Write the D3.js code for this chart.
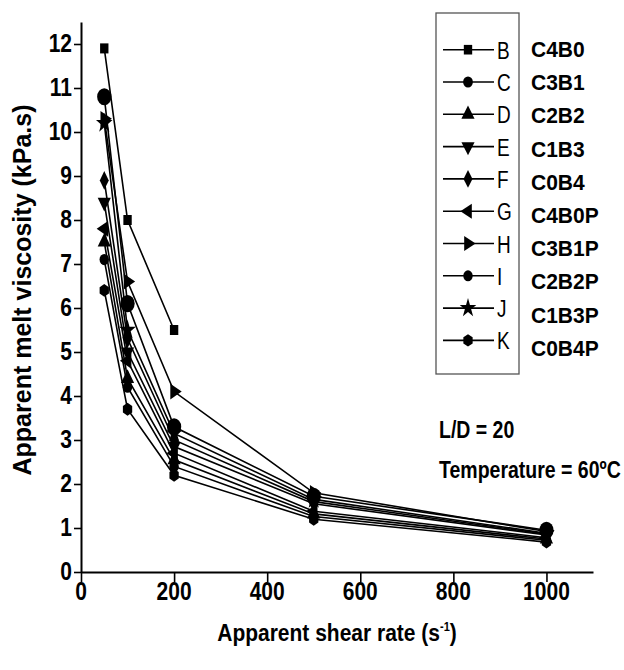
<!DOCTYPE html>
<html>
<head>
<meta charset="utf-8">
<script src="https://cdn.jsdelivr.net/npm/d3@7"></script>
<style>
  html, body { margin: 0; padding: 0; background: #fff; }
  svg { display: block; }
  text { font-family: "Liberation Sans", Arial, sans-serif; fill: #000; }
</style>
</head>
<body>
<div id="chart-area"></div>
<script>
// shear rates (s^-1) and viscosity (kPa.s) per formulation
var shearRates = [50, 100, 200, 500, 1000];
var seriesKeys = ["B", "C", "D", "E", "F", "G", "H", "I", "J", "K"];
var seriesNames = ["C4B0", "C3B1", "C2B2", "C1B3", "C0B4", "C4B0P", "C3B1P", "C2B2P", "C1B3P", "C0B4P"];
var valuesB = [11.9, 8.0, 5.5, null, null];
var valuesC = [10.8, 6.1, 3.3, 1.72, 0.95];
var valuesD = [7.5, 4.4, 2.55, 1.32, 0.75];
var valuesE = [8.4, 5.0, 2.85, 1.55, 0.84];
var valuesF = [8.9, 5.3, 3.0, 1.6, 0.86];
var valuesG = [7.8, 4.8, 2.7, 1.38, 0.78];
var valuesH = [10.3, 6.6, 4.1, 1.8, 0.92];
var valuesI = [7.1, 4.2, 2.4, 1.26, 0.72];
var valuesJ = [10.2, 5.5, 3.15, 1.65, 0.88];
var valuesK = [6.4, 3.7, 2.2, 1.2, 0.68];
var xTicks = [0, 200, 400, 600, 800, 1000];
var yTicks = [0, 1, 2, 3, 4, 5, 6, 7, 8, 9, 10, 11, 12];
var notes = ["L/D = 20", "Temperature = 60ºC"];

var allValues = [valuesB, valuesC, valuesD, valuesE, valuesF, valuesG, valuesH, valuesI, valuesJ, valuesK];

var width = 624, height = 670;

var svg = d3.select("#chart-area")
    .append("svg")
    .attr("width", width)
    .attr("height", height);

var x = d3.scaleLinear().domain([0, 1100]).range([81, 593]);
var y = d3.scaleLinear().domain([0, 12.5]).range([572, 22]);

// text with a bit of vertical stretch, the figure fonts look tall
function label(parent, tx, ty, str, size, bold, anchor, sy) {
    return parent.append("text")
        .attr("transform", "translate(" + tx + "," + ty + ") scale(1," + (sy || 1) + ")")
        .attr("text-anchor", anchor || "start")
        .attr("font-size", size + "px")
        .attr("font-weight", bold ? "bold" : "normal")
        .text(str);
}

// custom marker shapes
function rotated(type, angle) {
    var a = angle * Math.PI / 180, c = Math.cos(a), s = Math.sin(a);
    return {
        draw: function(context, size) {
            var proxy = {
                moveTo: function(px, py) { context.moveTo(px * c - py * s, px * s + py * c); },
                lineTo: function(px, py) { context.lineTo(px * c - py * s, px * s + py * c); },
                closePath: function() { context.closePath(); }
            };
            type.draw(proxy, size);
        }
    };
}
var symbolHex = {
    draw: function(context, size) {
        var r = Math.sqrt(size / 2.6);
        for (var i = 0; i < 6; i++) {
            var a = Math.PI / 6 + i * Math.PI / 3;
            if (i === 0) context.moveTo(r * Math.cos(a), r * Math.sin(a));
            else context.lineTo(r * Math.cos(a), r * Math.sin(a));
        }
        context.closePath();
    }
};

var shapes = [
    d3.symbolSquare,
    d3.symbolCircle,
    d3.symbolTriangle,
    rotated(d3.symbolTriangle, 180),
    d3.symbolDiamond,
    rotated(d3.symbolTriangle, -90),
    rotated(d3.symbolTriangle, 90),
    d3.symbolCircle,
    d3.symbolStar,
    symbolHex
];
var sizes = [70, 160, 75, 75, 70, 75, 75, 70, 85, 75];

// axes
var xAxisGroup = svg.append("g")
    .attr("transform", "translate(0," + y(0) + ")");
xAxisGroup.call(d3.axisBottom(x).tickValues(d3.range(0, 1101, 100)).tickSize(7).tickSizeOuter(0).tickFormat(""));
xAxisGroup.call(d3.axisBottom(x).tickValues(xTicks).tickSize(10).tickSizeOuter(0).tickFormat(""));

var yAxisGroup = svg.append("g")
    .attr("transform", "translate(" + x(0) + ",0)");
yAxisGroup.call(d3.axisLeft(y).tickValues(d3.range(0, 12.51, 0.5)).tickSize(4).tickSizeOuter(0).tickFormat(""));
yAxisGroup.call(d3.axisLeft(y).tickValues(yTicks).tickSize(7).tickSizeOuter(0).tickFormat(""));

svg.selectAll(".domain").attr("stroke", "#000").attr("stroke-width", 2);
svg.selectAll(".tick line").attr("stroke", "#000").attr("stroke-width", 1.6);

xTicks.forEach(function(t) {
    label(svg, x(t), 600, d3.format("d")(t), 21, true, "middle", 1.2);
});
yTicks.forEach(function(t) {
    label(svg, 72, y(t) + 8, d3.format("d")(t), 21, true, "end", 1.2);
});

// axis titles
svg.append("text")
    .attr("transform", "translate(337,641) scale(1,1.12)")
    .attr("text-anchor", "middle")
    .attr("font-size", "21px")
    .attr("font-weight", "bold")
    .html("Apparent shear rate (s<tspan dy='-9' font-size='11px'>-1</tspan><tspan dy='9'>)</tspan>");

svg.append("text")
    .attr("transform", "translate(31,290) rotate(-90)")
    .attr("text-anchor", "middle")
    .attr("font-size", "25px")
    .attr("font-weight", "bold")
    .text("Apparent melt viscosity (kPa.s)");

// lines and markers
var line = d3.line()
    .defined(function(d) { return d[1] !== null; })
    .x(function(d) { return x(d[0]); })
    .y(function(d) { return y(d[1]); });

allValues.forEach(function(vals, i) {
    var pts = shearRates.map(function(r, j) { return [r, vals[j]]; });
    svg.append("path")
        .attr("d", line(pts))
        .attr("fill", "none")
        .attr("stroke", "#000")
        .attr("stroke-width", 1.6);
    svg.selectAll(".m" + i)
        .data(pts.filter(function(d) { return d[1] !== null; }))
        .enter().append("path")
        .attr("class", "m" + i)
        .attr("transform", function(d) { return "translate(" + x(d[0]) + "," + y(d[1]) + ") scale(1,1.2)"; })
        .attr("d", d3.symbol().type(shapes[i]).size(sizes[i]))
        .attr("fill", "#000");
});

// legend
var lg = svg.append("g");
lg.append("rect")
    .attr("x", 436)
    .attr("y", 13)
    .attr("width", 83)
    .attr("height", 361)
    .attr("fill", "none")
    .attr("stroke", "#555")
    .attr("stroke-width", 1.3);

seriesKeys.forEach(function(k, i) {
    var cy = 49.7 + i * 32.3;
    var row = lg.append("g").attr("transform", "translate(0," + cy + ")");
    row.append("line")
        .attr("x1", 443).attr("x2", 494)
        .attr("y1", 0).attr("y2", 0)
        .attr("stroke", "#000").attr("stroke-width", 1.6);
    row.append("path")
        .attr("transform", "translate(468,0) scale(1,1.15)")
        .attr("d", d3.symbol().type(shapes[i]).size(i === 1 ? 75 : sizes[i]))
        .attr("fill", "#000");
    label(row, 497, 9, k, 19, false, "start", 1.3);
    label(lg, 531, 49 + i * 33.2 + 8, seriesNames[i], 21, true, "start", 1.05);
});

// condition notes
notes.forEach(function(n, i) {
    label(svg, 439, 430 + i * 40 + 8, n, 19.5, true, "start", 1.25);
});
</script>
</body>
</html>
